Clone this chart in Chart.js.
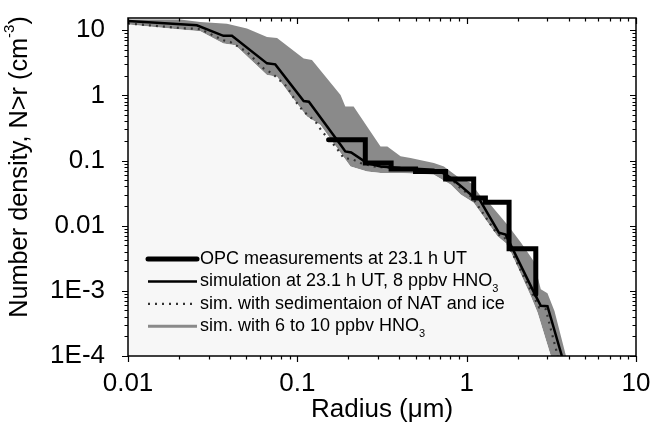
<!DOCTYPE html>
<html>
<head>
<meta charset="utf-8">
<script src="https://cdn.jsdelivr.net/npm/chart.js"></script>
<style>
  html, body { margin: 0; padding: 0; background: #fff; }
  #wrap { width: 652px; height: 429px; position: relative; }
</style>
</head>
<body>
<div id="wrap"><canvas id="chart"></canvas></div>
<script>
// values: radius (um) and number density N>r (cm^-3)
const opcR = [0.153, 0.252, 0.358, 0.499, 0.751, 1.10, 1.29, 1.78, 2.56];
const opcN = [0.208, 0.0916, 0.074, 0.068, 0.052, 0.0267, 0.0229, 0.00443, 0.00089];

const simR = [0.01, 0.0255, 0.0366, 0.0411, 0.0662, 0.0741, 0.109, 0.117, 0.180, 0.192, 0.208, 0.258, 0.310, 0.407, 0.638, 0.751, 0.90, 1.10, 1.18, 1.55, 1.70, 2.50, 2.74, 3.00, 3.65];
const simN = [13.9, 11.9, 8.2, 8.2, 3.1, 2.99, 0.82, 0.80, 0.175, 0.138, 0.133, 0.0916, 0.0813, 0.0767, 0.0723, 0.062, 0.043, 0.0275, 0.0262, 0.0078, 0.0073, 0.00094, 0.00059, 0.00058, 0.0001];

const sedR = [0.01, 0.0203, 0.0267, 0.0366, 0.0402, 0.0504, 0.0632, 0.0708, 0.0869, 0.0995, 0.109, 0.128, 0.140, 0.168, 0.188, 0.211, 0.236, 0.283, 0.407, 0.638, 0.751, 0.90, 1.08, 1.52, 1.66, 2.45, 2.68, 2.93, 3.45];
const sedN = [12.7, 10.8, 10.4, 7.0, 6.6, 4.66, 2.59, 2.18, 1.36, 0.757, 0.564, 0.396, 0.279, 0.164, 0.109, 0.105, 0.0916, 0.0813, 0.0741, 0.0711, 0.0628, 0.0397, 0.027, 0.00733, 0.0069, 0.000887, 0.000556, 0.000524, 0.0001];

// 6 to 10 ppbv HNO3 envelope
const bandHiR = [0.01, 0.0203, 0.0267, 0.0384, 0.0504, 0.0662, 0.0759, 0.109, 0.122, 0.180, 0.192, 0.215, 0.258, 0.310, 0.340, 0.407, 0.466, 0.640, 0.734, 0.881, 1.06, 1.21, 1.33, 1.76, 2.09, 2.49, 2.74, 3.00, 3.30, 3.86];
const bandHiN = [14.6, 14.6, 13.4, 12.6, 10.6, 7.9, 7.6, 3.69, 3.48, 1.01, 0.672, 0.672, 0.332, 0.164, 0.164, 0.116, 0.109, 0.0916, 0.0813, 0.0571, 0.0453, 0.0282, 0.0237, 0.0100, 0.0055, 0.00284, 0.00106, 0.00092, 0.00049, 0.0001];
const bandLoR = [0.01, 0.0203, 0.0267, 0.0366, 0.0430, 0.0662, 0.0759, 0.0910, 0.114, 0.137, 0.172, 0.206, 0.258, 0.310, 0.407, 0.640, 0.803, 0.921, 1.10, 1.52, 1.74, 2.39, 2.62, 3.14, 3.86];
const bandLoN = [12.2, 10.3, 9.6, 6.27, 5.9, 2.05, 1.93, 1.01, 0.472, 0.352, 0.155, 0.0813, 0.0681, 0.0644, 0.0644, 0.0607, 0.0427, 0.030, 0.0224, 0.0069, 0.00516, 0.000836, 0.000466, 0.0001, 0.000015];

const xTicks = [0.01, 0.1, 1, 10];
const xTickLabels = ['0.01', '0.1', '1', '10'];
const yTicks = [1e-4, 1e-3, 0.01, 0.1, 1, 10];
const yTickLabels = ['1E-4', '1E-3', '0.01', '0.1', '1', '10'];

const legendRows = [
  { text: 'OPC measurements at 23.1 h UT', sub: null, ds: 0 },
  { text: 'simulation at 23.1 h UT, 8 ppbv HNO', sub: '3', ds: 1 },
  { text: 'sim. with sedimentaion of NAT and ice', sub: null, ds: 2 },
  { text: 'sim. with 6 to 10 ppbv HNO', sub: '3', ds: 4 }
];

const FONT = "'Liberation Sans', Arial, Helvetica, sans-serif";
const pts = (xs, ys) => xs.map((x, i) => ({ x: x, y: ys[i] }));

// tick marks on all four sides, frame, y title and legend
const frameTicks = {
  id: 'frameTicks',
  afterDatasetsDraw(chart) {
    const { ctx, chartArea: a, scales } = chart;
    const xs = scales.x, ys = scales.y;
    ctx.save();
    ctx.strokeStyle = '#000';
    ctx.lineWidth = 1.2;
    ctx.beginPath();
    for (let e = -2; e <= 0; e++) {
      for (let m = 1; m <= 10; m++) {
        const v = m * Math.pow(10, e);
        const px = Math.round(xs.getPixelForValue(v)) + 0.5;
        const len = (m === 1 || m === 10) ? 6 : 3.5;
        ctx.moveTo(px, a.bottom); ctx.lineTo(px, a.bottom + len);
        ctx.moveTo(px, a.top); ctx.lineTo(px, a.top + len);
      }
    }
    for (let e = -4; e <= 1; e++) {
      for (let m = 1; m <= 9; m++) {
        const v = m * Math.pow(10, e);
        if (v > ys.max) continue;
        const py = Math.round(ys.getPixelForValue(v)) + 0.5;
        const len = m === 1 ? 6 : 3.5;
        ctx.moveTo(a.left, py); ctx.lineTo(a.left - len, py);
        ctx.moveTo(a.right, py); ctx.lineTo(a.right - len, py);
      }
    }
    ctx.stroke();
    ctx.lineWidth = 1.5;
    ctx.strokeRect(a.left, a.top, a.right - a.left, a.bottom - a.top);
    ctx.restore();
  },
  afterDraw(chart) {
    const { ctx, chartArea: a } = chart;
    ctx.save();
    // y axis title with superscript
    ctx.translate(20, (a.top + a.bottom) / 2 - 20);
    ctx.rotate(-Math.PI / 2);
    ctx.fillStyle = '#000';
    ctx.textBaseline = 'middle';
    const big = '25.3px ' + FONT, small = '15px ' + FONT;
    const t1 = 'Number density, N>r (cm', sup = '-3', t2 = ')';
    ctx.font = big;
    const w1 = ctx.measureText(t1).width, w3 = ctx.measureText(t2).width;
    ctx.font = small;
    const w2 = ctx.measureText(sup).width;
    const x0 = -(w1 + w2 + w3) / 2;
    ctx.font = big;
    ctx.fillText(t1, x0, 0);
    ctx.font = small;
    ctx.fillText(sup, x0 + w1, -10);
    ctx.font = big;
    ctx.fillText(t2, x0 + w1 + w2, 0);
    ctx.restore();

    // legend
    ctx.save();
    ctx.textBaseline = 'middle';
    ctx.fillStyle = '#000';
    legendRows.forEach((row, i) => {
      const y = 259 + i * 22.4;
      const ds = chart.data.datasets[row.ds];
      ctx.beginPath();
      if (row.ds === 4) {
        ctx.strokeStyle = ds.backgroundColor;
        ctx.lineWidth = 3;
        ctx.setLineDash([]);
      } else {
        ctx.strokeStyle = ds.borderColor;
        ctx.lineWidth = ds.borderWidth;
        ctx.setLineDash(ds.borderDash || []);
      }
      ctx.lineCap = row.ds === 0 ? 'round' : 'butt';
      ctx.moveTo(148, y); ctx.lineTo(197, y);
      ctx.stroke();
      ctx.setLineDash([]);
      ctx.font = '18px ' + FONT;
      ctx.fillText(row.text, 200, y);
      if (row.sub) {
        const w = ctx.measureText(row.text).width;
        ctx.font = '11px ' + FONT;
        ctx.fillText(row.sub, 200 + w, y + 8);
      }
    });
    ctx.restore();
  }
};

new Chart(document.getElementById('chart'), {
  type: 'line',
  data: {
    datasets: [
      {
        label: 'OPC measurements at 23.1 h UT',
        data: pts(opcR, opcN),
        borderColor: '#000', borderWidth: 5, stepped: 'before',
        borderCapStyle: 'round', pointRadius: 0, fill: false
      },
      {
        label: 'simulation at 23.1 h UT, 8 ppbv HNO3',
        data: pts(simR, simN),
        borderColor: '#000', borderWidth: 2.5, pointRadius: 0, fill: false
      },
      {
        label: 'sim. with sedimentaion of NAT and ice',
        data: pts(sedR, sedN),
        borderColor: '#333', borderWidth: 2.2, borderDash: [2, 5],
        pointRadius: 0, fill: false
      },
      {
        label: 'band lower',
        data: pts(bandLoR, bandLoN),
        borderColor: 'rgba(0,0,0,0)', backgroundColor: '#f7f7f7',
        pointRadius: 0, fill: 'start'
      },
      {
        label: 'sim. with 6 to 10 ppbv HNO3',
        data: pts(bandHiR, bandHiN),
        borderColor: 'rgba(0,0,0,0)', backgroundColor: '#8a8a8a',
        pointRadius: 0, fill: 3
      }
    ]
  },
  options: {
    responsive: true,
    maintainAspectRatio: false,
    animation: false,
    layout: { padding: { top: 18, right: 16, left: 0, bottom: 0 } },
    plugins: {
      legend: { display: false },
      tooltip: { enabled: false }
    },
    scales: {
      x: {
        type: 'logarithmic',
        min: 0.01, max: 10,
        grid: { display: false },
        border: { display: false },
        afterBuildTicks: (s) => { s.ticks = xTicks.map(v => ({ value: v })); },
        afterFit: (s) => { s.height = 73; s.paddingLeft = 0; s.paddingRight = 0; },
        ticks: {
          color: '#000', padding: 4, autoSkip: false, maxRotation: 0,
          font: { family: FONT, size: 26 },
          callback: (v) => xTickLabels[xTicks.indexOf(v)]
        },
        title: {
          display: true, text: 'Radius (\u03bcm)', color: '#000',
          font: { family: FONT, size: 26 },
          padding: { top: 0, bottom: 4 }
        }
      },
      y: {
        type: 'logarithmic',
        min: 1e-4, max: 15.4,
        grid: { display: false },
        border: { display: false },
        afterBuildTicks: (s) => { s.ticks = yTicks.map(v => ({ value: v })); },
        afterFit: (s) => { s.width = 128; s.paddingTop = 0; s.paddingBottom = 0; },
        ticks: {
          color: '#000', padding: 15, autoSkip: false,
          font: { family: FONT, size: 26 },
          callback: (v) => yTickLabels[yTicks.findIndex(t => Math.abs(t - v) / t < 1e-6)]
        }
      }
    }
  },
  plugins: [frameTicks]
});
</script>
</body>
</html>
